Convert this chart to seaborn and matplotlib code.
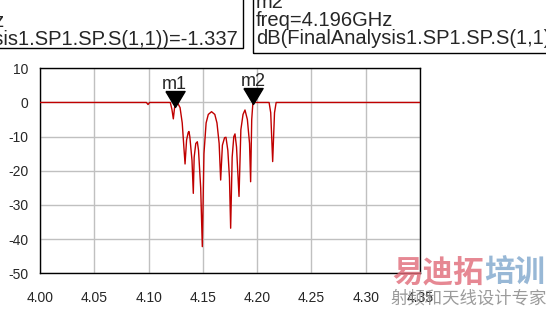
import numpy as np
import pandas as pd
import matplotlib
matplotlib.use("Agg")
import matplotlib.pyplot as plt
import seaborn as sns
from matplotlib.patches import Rectangle

# ---------------- data ----------------
freq_ghz = [4.000, 4.098, 4.0995, 4.101, 4.120, 4.1215, 4.1228, 4.124, 4.1255, 4.127,
            4.129, 4.131, 4.1325, 4.1336, 4.135, 4.1365, 4.1372, 4.138, 4.140, 4.1412,
            4.142, 4.1435, 4.1449, 4.146, 4.148, 4.1495, 4.151, 4.153, 4.155, 4.158,
            4.161, 4.163, 4.165, 4.1664, 4.168, 4.170, 4.1713, 4.173, 4.1745, 4.1756,
            4.177, 4.1785, 4.1796, 4.181, 4.1833, 4.185, 4.187, 4.1888, 4.191, 4.193,
            4.194, 4.195, 4.196, 4.197, 4.211, 4.2125, 4.2143, 4.216, 4.2175, 4.350]
s11_db = [0.0, 0.0, -0.6, 0.0, 0.0, -2.0, -4.8, -1.337, -0.4, -0.3,
          -1.5, -6.0, -13.0, -18.0, -11.0, -8.8, -8.5, -10.0, -17.0, -26.6,
          -16.0, -12.0, -11.5, -14.0, -25.0, -42.2, -15.0, -6.0, -3.5, -2.7,
          -3.5, -6.0, -12.0, -22.7, -12.5, -10.3, -10.2, -14.0, -22.0, -36.8,
          -16.0, -10.0, -9.2, -13.0, -27.5, -8.0, -3.5, -2.2, -5.0, -12.0,
          -23.2, -5.0, -0.5, 0.0, 0.0, -3.0, -17.3, -3.0, 0.0, 0.0]

marker_names = ["m1", "m2"]
marker_freq = [4.124, 4.196]
marker_db = [-1.337, -0.5]
marker_boxes = ["m1\nfreq=4.124GHz\ndB(FinalAnalysis1.SP1.SP.S(1,1))=-1.337",
                "m2\nfreq=4.196GHz\ndB(FinalAnalysis1.SP1.SP.S(1,1))=-0.500"]

x_ticks = [4.00, 4.05, 4.10, 4.15, 4.20, 4.25, 4.30, 4.35]
y_ticks = [10, 0, -10, -20, -30, -40, -50]

wm_line1a = "易迪拓"
wm_line1b = "培训"
wm_line2 = "射频和天线设计专家"

# ---------------- style ----------------
sns.set_style("white")
plt.rcParams['font.family'] = ['Liberation Sans', 'DejaVu Sans']
plt.rcParams['axes.unicode_minus'] = False

W, H = 546, 310
fig = plt.figure(figsize=(W / 100, H / 100), dpi=100)
ax = fig.add_axes([40 / W, 1 - 273.3 / H, 380 / W, 205 / H])

df = pd.DataFrame({"freq": freq_ghz, "db": s11_db})
sns.lineplot(data=df, x="freq", y="db", ax=ax, color="#c00000", linewidth=1.0,
             sort=False, estimator=None, zorder=3)

ax.set_xlim(4.00, 4.35)
ax.set_ylim(-50, 10)
ax.set_xticks(x_ticks)
ax.set_xticklabels([f"{v:.2f}" for v in x_ticks])
ax.set_yticks(y_ticks)
ax.set_yticklabels([f"{v}" for v in y_ticks])
ax.set_xticks(np.round(np.arange(4.00, 4.351, 0.01), 3), minor=True)
ax.set_yticks(np.arange(-50, 11, 5), minor=True)
ax.set_xlabel("")
ax.set_ylabel("")
ax.grid(True, which="major", color="#c0c0c0", linewidth=1.0, zorder=0)
for s in ax.spines.values():
    s.set_color("black")
    s.set_linewidth(1.0)
ax.tick_params(axis="both", which="major", direction="out", length=7, width=1,
               color="black", labelsize=10)
ax.tick_params(axis="x", which="major", pad=5.5)
ax.tick_params(axis="y", which="major", pad=1.5)
ax.tick_params(axis="both", which="minor", direction="out", length=4, width=1,
               color="black")

# markers
tri = [(-0.6, 1.0), (0.6, 1.0), (0.0, 0.0), (-0.6, 1.0)]
for name, f, v in zip(marker_names, marker_freq, marker_db):
    ax.plot([f], [v], marker=tri, markersize=23, color="black", linestyle="none",
            zorder=5, clip_on=False)
    ax.annotate(name, xy=(f, v), xytext=(0, 10), textcoords="offset points",
                ha="center", va="bottom", fontsize=13, zorder=6)

# marker readout boxes (partially outside the figure)
fig.patches.append(Rectangle((-300 / W, 1 - 48.3 / H), (242.7 + 300) / W, 60 / H,
                             transform=fig.transFigure, fill=False,
                             edgecolor="black", linewidth=1.0))
fig.patches.append(Rectangle((253.3 / W, 1 - 53 / H), 400 / W, 60 / H,
                             transform=fig.transFigure, fill=False,
                             edgecolor="black", linewidth=1.0))
fig.text(238 / W, 1 - 45 / H, marker_boxes[0], ha="right", va="baseline",
         multialignment="left", fontsize=14.5, linespacing=0.95)
fig.text(256 / W, 1 - 44.3 / H, marker_boxes[1], ha="left", va="baseline",
         multialignment="left", fontsize=14.5, linespacing=0.95)

# watermark
cjk = ['Noto Sans CJK SC', 'DejaVu Sans']
fig.text(392 / W, 1 - 282 / H, wm_line1a, family=cjk, fontsize=22, weight="bold",
         color="#e06a78", alpha=0.8, ha="left", va="baseline")
fig.text(484 / W, 1 - 282 / H, wm_line1b, family=cjk, fontsize=22, weight="bold",
         color="#7fa6cc", alpha=0.8, ha="left", va="baseline")
fig.text(390 / W, 1 - 304 / H, wm_line2, family=cjk, fontsize=12.5,
         color="#8a8a8a", alpha=0.85, ha="left", va="baseline")

fig.savefig("out.png", dpi=100)
